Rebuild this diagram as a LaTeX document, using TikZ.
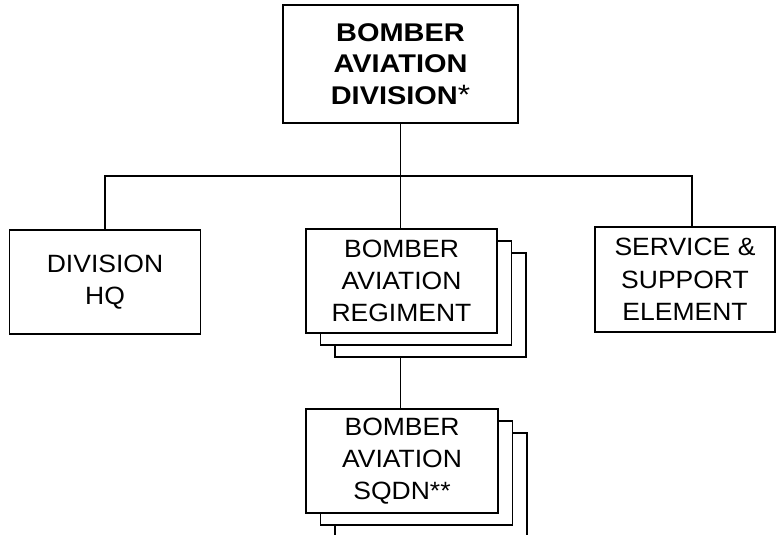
\documentclass[tikz,border=0pt]{standalone}
\usepackage{fontspec}
\setmainfont{Liberation Sans}[FakeStretch=1.06]
\newfontfamily\bfwide{Liberation Sans}[FakeStretch=1.13]
\begin{document}
\begin{tikzpicture}[x=1pt,y=-1pt,
  box/.style={draw,line width=1.6pt,fill=white,inner sep=0pt,align=center,
    font=\fontsize{25}{32.3}\selectfont},
  conn/.style={line width=1.6pt}]
\useasboundingbox (0,0) rectangle (776,535);
% top
\node[box,minimum width=235pt,minimum height=118pt,
  font=\bfwide\bfseries\fontsize{25.6}{31.2}\selectfont] (div) at (400.5,64)
  {BOMBER\\AVIATION\\DIVISION{\mdseries\fontsize{28}{28}\selectfont *}};
% division HQ
\node[box,minimum width=191pt,minimum height=104pt] (hq) at (105,282) {DIVISION\\HQ};
% regiment stack
\node[box,minimum width=191pt,minimum height=104pt] (reg3) at (430.5,305) {};
\node[box,minimum width=191pt,minimum height=104pt] (reg2) at (416,293) {};
\node[box,minimum width=191pt,minimum height=104pt] (reg) at (401.5,281) {BOMBER\\AVIATION\\REGIMENT};
% service
\node[box,minimum width=180pt,minimum height=105pt] (svc) at (685,279.5) {SERVICE \&\\SUPPORT\\ELEMENT};
% squadron stack
\node[box,minimum width=192pt,minimum height=104pt] (sq3) at (431,485) {};
\node[box,minimum width=192pt,minimum height=104pt] (sq2) at (416.5,473) {};
\node[box,minimum width=192pt,minimum height=104pt] (sq) at (402,461) {BOMBER\\AVIATION\\SQDN**};
% connectors
\coordinate (busL) at (105,176);
\coordinate (busR) at (692,176);
\coordinate (busM) at (400.5,176);
\draw[conn] (hq.north) -- (busL) -- (busR) -- (busR |- svc.north);
\draw[conn] (div.south) -- (busM) -- (busM |- reg.north);
\draw[conn] (busM |- reg3.south) -- (busM |- sq.north);
\end{tikzpicture}
\end{document}
